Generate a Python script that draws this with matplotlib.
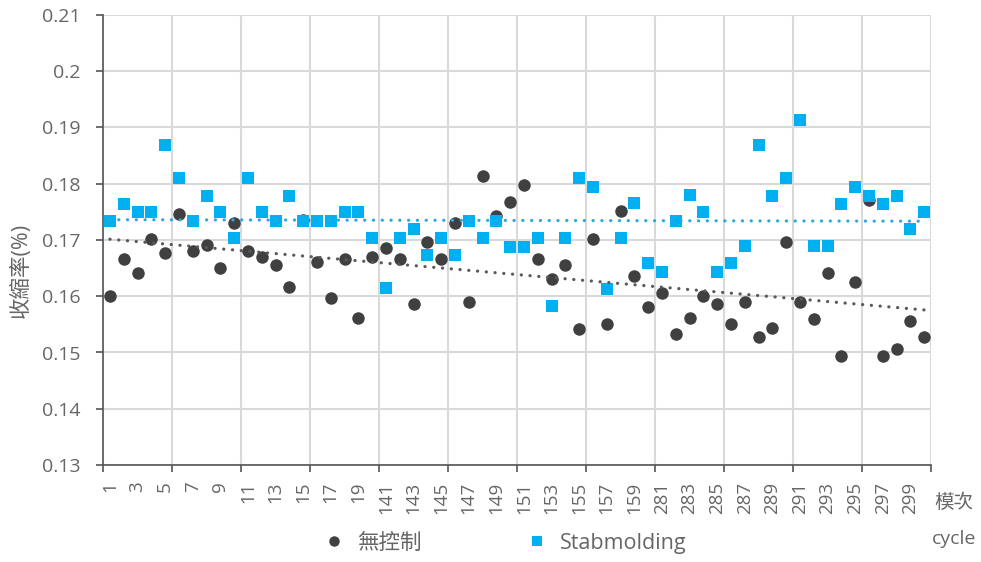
import numpy as np
import matplotlib
matplotlib.use("Agg")
import matplotlib.pyplot as plt
from matplotlib.lines import Line2D

plt.rcParams['font.family'] = ['Open Sans', 'Noto Sans CJK TC', 'DejaVu Sans']

cycles = list(range(1, 21)) + list(range(141, 161)) + list(range(281, 301))

no_control = [0.1601, 0.1666, 0.1641, 0.1702, 0.1676, 0.1747, 0.1681, 0.1691, 0.1651, 0.1731,
              0.1681, 0.1670, 0.1656, 0.1616, 0.1735, 0.1661, 0.1596, 0.1666, 0.1561, 0.1670,
              0.1685, 0.1666, 0.1586, 0.1697, 0.1666, 0.1731, 0.1590, 0.1813, 0.1743, 0.1767,
              0.1798, 0.1666, 0.1631, 0.1656, 0.1542, 0.1701, 0.1550, 0.1752, 0.1636, 0.1581,
              0.1605, 0.1533, 0.1561, 0.1601, 0.1586, 0.1550, 0.1590, 0.1527, 0.1544, 0.1696,
              0.1590, 0.1560, 0.1641, 0.1493, 0.1626, 0.1771, 0.1493, 0.1507, 0.1556, 0.1527]

stabmolding = [0.1734, 0.1764, 0.1750, 0.1750, 0.1868, 0.1810, 0.1733, 0.1779, 0.1750, 0.1704,
               0.1810, 0.1750, 0.1734, 0.1779, 0.1734, 0.1734, 0.1734, 0.1750, 0.1750, 0.1703,
               0.1614, 0.1703, 0.1719, 0.1673, 0.1703, 0.1673, 0.1734, 0.1703, 0.1734, 0.1688,
               0.1688, 0.1704, 0.1583, 0.1704, 0.1811, 0.1795, 0.1613, 0.1704, 0.1765, 0.1659,
               0.1643, 0.1734, 0.1780, 0.1750, 0.1643, 0.1659, 0.1689, 0.1868, 0.1779, 0.1810,
               0.1913, 0.1689, 0.1689, 0.1764, 0.1795, 0.1779, 0.1764, 0.1779, 0.1719, 0.1749]

series_names = ['無控制', 'Stabmolding']
yticks = [0.13, 0.14, 0.15, 0.16, 0.17, 0.18, 0.19, 0.2, 0.21]
ytick_labels = ['0.13', '0.14', '0.15', '0.16', '0.17', '0.18', '0.19', '0.2', '0.21']

gray = '#404040'
blue = '#00B0F0'
txt = '#666666'
grid = '#D9D9D9'

fig = plt.figure(figsize=(9.81, 5.62), dpi=100)
ax = fig.add_axes([103/981, 1-465/562, 828/981, 450/562])

x = np.arange(len(cycles))

ax.plot(x, no_control, 'o', color=gray, markersize=9, markeredgewidth=0, zorder=3)
ax.plot(x, stabmolding, 's', color=blue, markersize=8.2, markeredgewidth=0, zorder=4)

# linear trendlines
for vals, c in ((no_control, '#595959'), (stabmolding, '#2AA9DC')):
    k, b = np.polyfit(x, vals, 1)
    ax.plot([x[0], x[-1]], [k*x[0]+b, k*x[-1]+b], color=c, lw=2.3,
            linestyle=(0, (0.05, 2.7)), dash_capstyle='round', zorder=5)

ax.set_xlim(-0.5, len(cycles)-0.5)
ax.set_ylim(0.13, 0.21)
ax.set_yticks(yticks)
ax.set_yticklabels(ytick_labels)

ax.set_xticks(x[::2])
ax.set_xticklabels([str(c) for c in cycles[::2]], rotation=90)
ax.set_xticks(np.arange(-0.5, len(cycles), 5), minor=True)
ax.tick_params(axis='x', which='major', length=0, pad=12, labelsize=13.5, labelcolor=txt)
ax.tick_params(axis='x', which='minor', length=5, width=1.2, color='#555555')
ax.tick_params(axis='y', which='major', length=5, width=1.2, color='#555555',
               labelsize=14, labelcolor=txt, pad=11)

ax.grid(False)
ax.yaxis.grid(True, which='major', color=grid, lw=1.5, zorder=0)
ax.xaxis.grid(True, which='minor', color=grid, lw=1.5, zorder=0)
ax.set_axisbelow(True)

for s in ('top', 'right'):
    ax.spines[s].set_visible(False)
for s in ('left', 'bottom'):
    ax.spines[s].set_color('#555555')
    ax.spines[s].set_linewidth(1.2)

fig.text(21/981, 1-270/562, '收縮率(%)', rotation=90, ha='center', va='center',
         fontsize=15.5, color=txt)
fig.text(954/981, 1-503/562, '模次', ha='center', va='center', fontsize=14, color=txt)
fig.text(954/981, 1-539/562, 'cycle', ha='center', va='center', fontsize=14, color=txt)

handles = [Line2D([], [], marker='o', color=gray, linestyle='none', markersize=7.5, markeredgewidth=0),
           Line2D([], [], marker='s', color=blue, linestyle='none', markersize=7, markeredgewidth=0)]
leg = fig.legend(handles, series_names, loc='center', bbox_to_anchor=(505/981, 1-543/562),
                 ncol=2, frameon=False, fontsize=15.5, handlelength=1, handletextpad=0.55,
                 columnspacing=4.9, labelcolor=txt)

fig.savefig('out.png', dpi=100)
